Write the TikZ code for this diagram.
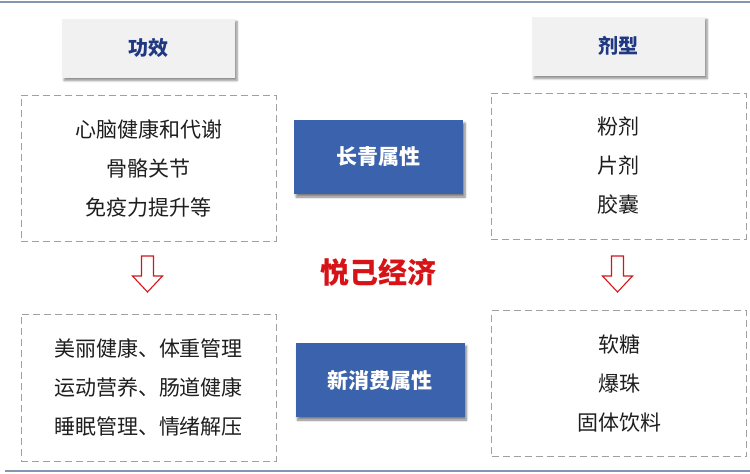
\documentclass[tikz,border=0pt]{standalone}
\usepackage{fontspec}
\usepackage{tikz}
\usetikzlibrary{shadows.blur}
\setmainfont{Noto Sans CJK SC}
\newfontfamily\cjk{Noto Sans CJK SC}
\definecolor{rulegray}{RGB}{132, 151, 176}
\definecolor{titlegray}{RGB}{241, 241, 241}
\definecolor{titlenavy}{RGB}{31, 56, 130}
\definecolor{attrblue}{RGB}{59, 98, 172}
\definecolor{dashgray}{RGB}{160, 160, 160}
\definecolor{yuejired}{RGB}{214, 20, 24}
\definecolor{bodyblack}{RGB}{30, 30, 30}
\tikzstyle{titlebox}=[fill=titlegray, minimum width=173pt, minimum height=59pt, font=\cjk\fontsize{20}{23}\bfseries\selectfont, text=titlenavy, blur shadow={shadow xshift=2pt, shadow yshift=-3pt, shadow blur steps=6, shadow opacity=45}]
\tikzstyle{listbox}=[draw=dashgray, line width=1pt, dash pattern=on 7pt off 4pt, minimum width=255pt, minimum height=146pt, align=center, text=bodyblack, font=\cjk\fontsize{21}{39}\selectfont]
\tikzstyle{attrbox}=[fill=attrblue, minimum width=169pt, minimum height=74pt, text=white, font=\cjk\fontsize{21}{24}\bfseries\selectfont, blur shadow={shadow xshift=2pt, shadow yshift=-3pt, shadow blur steps=6, shadow opacity=50}]
\tikzstyle{hollowarrow}=[draw=yuejired, line width=1.1pt, fill=white, line join=miter]

\begin{document}
\begin{tikzpicture}[x=1pt, y=-1pt]
    \useasboundingbox (0,0) rectangle (750,474);

    % Frame rules
    \draw[rulegray, line width=2pt] (0,1.5) -- (750,1.5);
    \draw[rulegray, line width=2pt] (5,471) -- (750,471);

    % Title boxes
    \node[titlebox] (gongxiao) at (148.5, 48) {功效};
    \node[titlebox] (jixing) at (618.5, 46) {剂型};

    % Lists
    \node[listbox] (effect) at (148.5, 168) {心脑健康和代谢\\骨骼关节\\免疫力提升等};
    \node[listbox] (form) at (618.5, 166) {粉剂\\片剂\\胶囊};
    \node[listbox, minimum height=147pt] (effectnew) at (148.5, 387.5) {美丽健康、体重管理\\运动营养、肠道健康\\睡眠管理、情绪解压};
    \node[listbox] (formnew) at (619, 383.5) {软糖\\爆珠\\固体饮料};

    % Attributes
    \node[attrbox] (changqing) at (378.5, 157) {长青属性};
    \node[attrbox] (xinxiaofei) at (380, 380) {新消费属性};

    % Centre label
    \node[text=yuejired, font=\cjk\fontsize{29}{32}\bfseries\selectfont] (yueji) at (378, 272) {悦己经济};

    % Down arrows
    \foreach \x in {147.5, 617.5} {
        \draw[hollowarrow] (\x-6,256) -- (\x+6,256) -- (\x+6,276) -- (\x+15,276)
            -- (\x,292) -- (\x-15,276) -- (\x-6,276) -- cycle;
    }

\end{tikzpicture}
\end{document}
